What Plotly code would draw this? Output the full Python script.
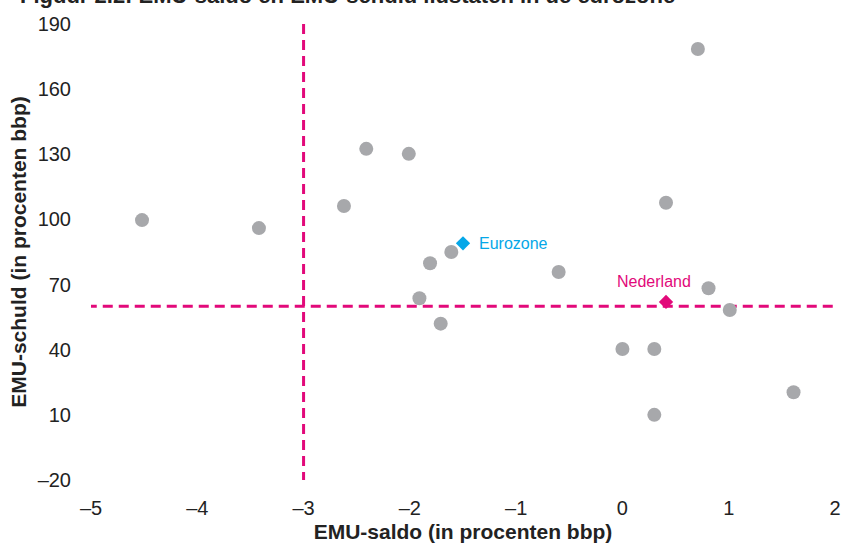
import plotly.graph_objects as go

# Data: EMU-saldo (x) and EMU-schuld (y), % bbp
saldo = [-4.52, -3.42, -2.41, -2.01, -2.62, -1.61, -1.81, -1.91, -1.71, -0.60,
         0.71, 0.41, 0.81, 1.01, 0.0, 0.30, 0.30, 1.61]
schuld = [99.7, 96.0, 132.5, 130.2, 106.2, 85.0, 79.8, 63.7, 52.0, 75.8,
          178.5, 107.7, 68.3, 58.3, 40.3, 40.3, 10.0, 20.4]
eurozone = (-1.50, 89.0)
nederland = (0.41, 62.0)
norm_saldo = -3
norm_schuld = 60

xticks = [-5, -4, -3, -2, -1, 0, 1, 2]
yticks = [-20, 10, 40, 70, 100, 130, 160, 190]

def lbl(v):
    return ("–" + str(abs(v))) if v < 0 else str(v)

GRAY = "#a7a8ab"
CYAN = "#05a7e8"
MAGENTA = "#e2097a"
FONT = "Liberation Sans, Arial, sans-serif"

fig = go.Figure()

# norm lines
fig.add_trace(go.Scatter(x=[-5.04, 2], y=[norm_schuld, norm_schuld], mode="lines",
                         line=dict(color=MAGENTA, width=3, dash="10px,6px"),
                         hoverinfo="skip", showlegend=False, cliponaxis=False))
fig.add_trace(go.Scatter(x=[norm_saldo, norm_saldo], y=[190, -20], mode="lines",
                         line=dict(color=MAGENTA, width=3, dash="10px,6px"),
                         hoverinfo="skip", showlegend=False, cliponaxis=False))

fig.add_trace(go.Scatter(x=saldo, y=schuld, mode="markers",
                         marker=dict(color=GRAY, size=14, line=dict(width=0)),
                         showlegend=False, cliponaxis=False))
fig.add_trace(go.Scatter(x=[eurozone[0]], y=[eurozone[1]], mode="markers",
                         marker=dict(color=CYAN, size=11, symbol="diamond", line=dict(width=0)),
                         showlegend=False, cliponaxis=False))
fig.add_trace(go.Scatter(x=[nederland[0]], y=[nederland[1]], mode="markers",
                         marker=dict(color=MAGENTA, size=11, symbol="diamond", line=dict(width=0)),
                         showlegend=False, cliponaxis=False))

fig.add_annotation(text="Eurozone", x=eurozone[0], y=eurozone[1], xanchor="left",
                   yanchor="middle", xshift=14, showarrow=False,
                   font=dict(size=16, color=CYAN, family=FONT))
fig.add_annotation(text="Nederland", x=nederland[0], y=nederland[1], xanchor="center",
                   yanchor="middle", xshift=-12, yshift=20, showarrow=False,
                   font=dict(size=16, color=MAGENTA, family=FONT))

fig.add_annotation(text="<b>Figuur 2.2: EMU-saldo en EMU-schuld lidstaten in de eurozone</b>",
                   xref="paper", yref="paper", x=-0.098, y=1.031, xanchor="left",
                   yanchor="bottom", showarrow=False,
                   font=dict(size=22, color="#222222", family=FONT))

fig.update_layout(
    width=842, height=544,
    margin=dict(l=91, r=7, t=24, b=64),
    paper_bgcolor="white", plot_bgcolor="white",
    font=dict(family=FONT, color="#222222"),
    xaxis=dict(range=[-5, 2], tickvals=xticks, ticktext=[lbl(v) for v in xticks],
               showgrid=False, zeroline=False, showline=False, automargin=False,
               ticks="outside", ticklen=10, tickcolor="rgba(0,0,0,0)",
               tickfont=dict(size=20),
               title=dict(text="<b>EMU-saldo (in procenten bbp)</b>",
                          font=dict(size=21, family=FONT), standoff=6)),
    yaxis=dict(range=[-20, 190], tickvals=yticks, ticktext=[lbl(v) for v in yticks],
               showgrid=False, zeroline=False, showline=False, automargin=False,
               ticks="outside", ticklen=15, tickcolor="rgba(0,0,0,0)",
               tickfont=dict(size=20),
               title=dict(text="<b>EMU-schuld (in procenten bbp)</b>",
                          font=dict(size=21, family=FONT), standoff=5)),
)

fig.write_html("out.html", config={"displayModeBar": False},
               post_script="document.body.style.margin='0px';")
